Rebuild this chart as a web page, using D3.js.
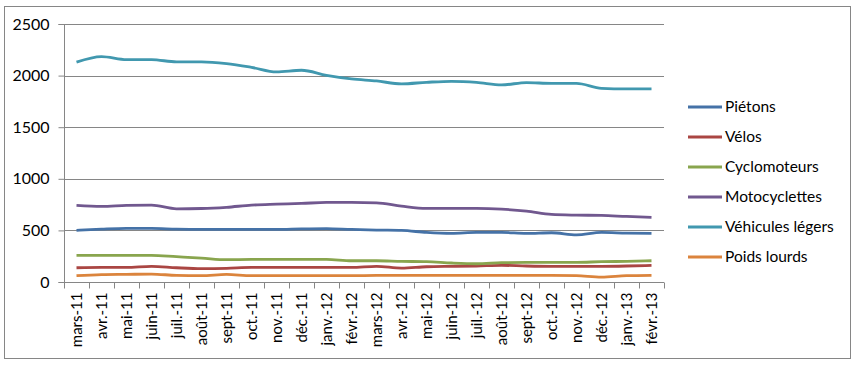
<!DOCTYPE html>
<html>
<head>
<meta charset="utf-8">
<script src="https://cdn.jsdelivr.net/npm/d3@7"></script>
<style>
  body { margin: 0; background: #fff; }
  text { font-family: Lato, "Liberation Sans", sans-serif; fill: #000; }
</style>
</head>
<body>
<div id="chart"></div>
<script>
var months = ["mars-11", "avr.-11", "mai-11", "juin-11", "juil.-11", "août-11", "sept-11", "oct.-11", "nov.-11", "déc.-11",
  "janv.-12", "févr.-12", "mars-12", "avr.-12", "mai-12", "juin-12", "juil.-12", "août-12", "sept-12", "oct.-12",
  "nov.-12", "déc.-12", "janv.-13", "févr.-13"];

var seriesNames = ["Piétons", "Vélos", "Cyclomoteurs", "Motocyclettes", "Véhicules légers", "Poids lourds"];
var seriesColors = ["#4572A7", "#AA4643", "#89A54E", "#71588F", "#4198AF", "#DB843D"];

var pietons = [500, 512, 520, 520, 512, 509, 509, 509, 509, 515, 518, 509, 503, 500, 480, 471, 480, 480, 471, 477, 457, 480, 474, 471];
var velos = [138, 141, 141, 152, 138, 129, 132, 141, 141, 141, 141, 141, 152, 135, 148, 152, 155, 161, 155, 152, 152, 152, 155, 161];
var cyclos = [258, 258, 258, 258, 245, 232, 216, 219, 219, 219, 219, 206, 206, 200, 197, 184, 177, 187, 190, 190, 190, 197, 200, 206];
var motos = [742, 732, 742, 745, 709, 712, 724, 745, 754, 761, 771, 771, 767, 735, 713, 713, 713, 706, 687, 655, 648, 645, 635, 626];
var vl = [2130, 2184, 2155, 2155, 2133, 2133, 2116, 2080, 2036, 2052, 2003, 1968, 1948, 1920, 1935, 1945, 1935, 1910, 1932, 1925, 1925, 1877, 1871, 1871];
var pl = [61, 71, 74, 77, 64, 61, 74, 61, 61, 61, 61, 61, 64, 64, 64, 64, 64, 64, 64, 64, 61, 48, 61, 64];

var yTicks = [0, 500, 1000, 1500, 2000, 2500];

var series = [pietons, velos, cyclos, motos, vl, pl];

var svgWidth = 856;
var svgHeight = 365;
var margin = { top: 24, left: 64 };
var chartWidth = 600;
var chartHeight = 258;

var svg = d3.select("#chart")
  .append("svg")
  .attr("width", svgWidth)
  .attr("height", svgHeight);

// outer frame
svg.append("rect")
  .attr("x", 4.5).attr("y", 6.5)
  .attr("width", 846).attr("height", 352)
  .attr("fill", "none")
  .attr("stroke", "#868686")
  .attr("stroke-width", 1);

var chart = svg.append("g")
  .attr("transform", "translate(" + margin.left + "," + margin.top + ")");

var x = d3.scaleBand().domain(months).range([0, chartWidth]);
var y = d3.scaleLinear().domain([0, 2500]).range([chartHeight, 0]);

// gridlines
chart.selectAll(".grid")
  .data(yTicks.slice(1))
  .enter()
  .append("line")
  .attr("x1", 0).attr("x2", chartWidth)
  .attr("y1", d => Math.round(y(d)) + 0.5)
  .attr("y2", d => Math.round(y(d)) + 0.5)
  .attr("stroke", "#868686");

// left axis
var leftAxis = d3.axisLeft(y).tickValues(yTicks).tickFormat(d3.format("d")).tickSize(6).tickPadding(9);
var gy = chart.append("g").attr("transform", "translate(0.5,0)").call(leftAxis);
gy.select(".domain").attr("stroke", "#868686").attr("d", "M-6," + (chartHeight + 0.5) + "H0V0.5H-6");
gy.selectAll(".tick line").attr("stroke", "#868686");
gy.selectAll(".tick text").attr("font-size", 16).attr("font-family", "Lato, sans-serif").attr("fill", "#000");

// bottom axis with ticks at category boundaries
var bottomAxis = d3.axisBottom(x).tickSize(0).tickPadding(0);
var gx = chart.append("g").attr("transform", "translate(0," + (chartHeight + 0.5) + ")").call(bottomAxis);
gx.select(".domain").attr("stroke", "#868686").attr("d", "M0,0H" + chartWidth);
gx.selectAll(".tick text")
  .attr("font-size", 15)
  .attr("font-family", "Lato, sans-serif")
  .attr("fill", "#000")
  .attr("transform", "rotate(-90)")
  .attr("text-anchor", "end")
  .attr("x", -10)
  .attr("y", 0)
  .attr("dy", "0.35em");

var bounds = d3.range(months.length + 1).map(i => i * x.step());
gx.selectAll(".bound")
  .data(bounds)
  .enter()
  .append("line")
  .attr("x1", d => Math.round(d) + 0.5).attr("x2", d => Math.round(d) + 0.5)
  .attr("y1", 0).attr("y2", 6)
  .attr("stroke", "#868686");

// lines
var line = d3.line()
  .x((d, i) => x(months[i]) + x.bandwidth() / 2)
  .y(d => y(d))
  .curve(d3.curveMonotoneX);

chart.selectAll(".serie")
  .data(series)
  .enter()
  .append("path")
  .attr("d", line)
  .attr("fill", "none")
  .attr("stroke", (d, i) => seriesColors[i])
  .attr("stroke-width", 2.8)
  .attr("stroke-linejoin", "round");

// legend
var legend = svg.append("g").attr("transform", "translate(688,107)");
var items = legend.selectAll(".item")
  .data(seriesNames)
  .enter()
  .append("g")
  .attr("transform", (d, i) => "translate(0," + i * 30 + ")");
items.append("line")
  .attr("x1", 0).attr("x2", 34)
  .attr("stroke", (d, i) => seriesColors[i])
  .attr("stroke-width", 3);
items.append("text")
  .attr("x", 37)
  .attr("dy", "0.35em")
  .attr("font-size", 15.5)
  .text(d => d);
</script>
</body>
</html>
